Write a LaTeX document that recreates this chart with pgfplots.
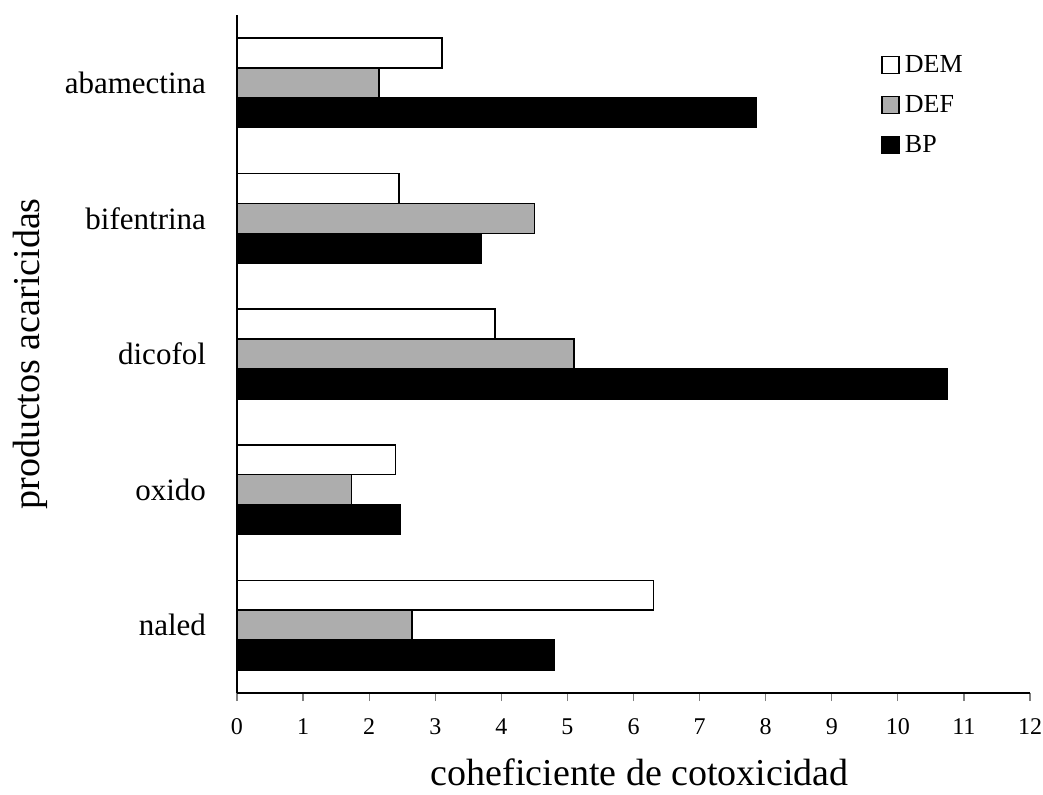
\documentclass[border=0pt]{standalone}
\usepackage{pgfplots}
\pgfplotsset{compat=1.18}
\usepackage{fontspec}
\setmainfont{Liberation Serif}
\begin{document}
\begin{tikzpicture}
\begin{axis}[
  at={(118.5pt,50.5pt)}, anchor=south west,
  scale only axis, width=396.5pt, height=339pt,
  xbar, bar width=0.22,
  xmin=0, xmax=12, ymin=-0.5, ymax=4.5,
  axis x line*=bottom, axis y line*=left,
  xtick={0,...,12},
  ytick={0,1,2,3,4},
  yticklabels={naled,oxido,dicofol,bifentrina,abamectina},
  minor ytick={-0.5,0.5,1.5,2.5,3.5,4.5},
  tick align=outside,
  major tick length=4pt, minor tick length=4pt,
  ytick style={draw=none},
  minor tick style={draw=black, line width=0.6pt},
  xtick style={line width=0.6pt},
  axis line style={line width=0.7pt},
  /pgf/number format/assume math mode=true,
  xticklabel style={font=\fontsize{12}{14}\selectfont, text height=8.2pt, text depth=0pt, yshift=-5pt},
  yticklabel style={font=\fontsize{15.5}{18}\selectfont, xshift=-8pt},
  xlabel={coheficiente de cotoxicidad},
  ylabel={productos acaricidas},
  xlabel style={font=\fontsize{19}{22}\selectfont, at={(axis description cs:0.508,-0.117)}, anchor=center},
  ylabel style={font=\fontsize{19}{22}\selectfont, at={(axis description cs:-0.261,0.5)}, anchor=center},
  legend style={draw=none, fill=none, at={(0.812,0.946)}, anchor=north west,
    font=\fontsize{13}{15}\selectfont, row sep=7pt, inner sep=0pt,
    nodes={inner ysep=1.5pt, inner xsep=2.5pt}},
  legend cell align=left,
  legend image code/.code={\draw[#1, line width=0.8pt] (0pt,-4.2pt) rectangle (8.5pt,4.3pt);},
  every axis plot/.append style={draw=black, line width=0.8pt},
]
\addplot[fill=white, bar shift=0.22] coordinates {(3.1,4) (2.45,3) (3.9,2) (2.4,1) (6.3,0)};
\addplot[fill=black!32, bar shift=0] coordinates {(2.15,4) (4.5,3) (5.1,2) (1.73,1) (2.65,0)};
\addplot[fill=black, bar shift=-0.22] coordinates {(7.85,4) (3.7,3) (10.75,2) (2.47,1) (4.8,0)};
\legend{DEM,DEF,BP}
\end{axis}
\pgfresetboundingbox
\useasboundingbox (0,0) rectangle (521.5pt,397pt);
\end{tikzpicture}
\end{document}
